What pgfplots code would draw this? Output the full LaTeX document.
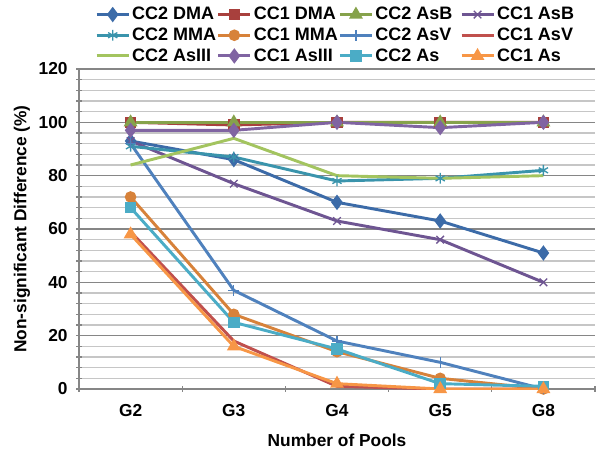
\documentclass[border=0pt]{standalone}
\usepackage{fontspec}
\setmainfont{Liberation Sans}
\usepackage{pgfplots}
\pgfplotsset{compat=1.18}
\definecolor{cctwodma}{HTML}{3C6BA8}
\definecolor{cconedma}{HTML}{A8403D}
\definecolor{cctwoasb}{HTML}{86A24B}
\definecolor{cconeasb}{HTML}{6E5592}
\definecolor{cctwomma}{HTML}{3A94AC}
\definecolor{cconemma}{HTML}{D7823A}
\definecolor{cctwoasv}{HTML}{4F81BD}
\definecolor{cconeasv}{HTML}{C0504D}
\definecolor{cctwoas3}{HTML}{A3C45F}
\definecolor{cconeas3}{HTML}{8064A2}
\definecolor{cctwoas}{HTML}{4BACC6}
\definecolor{cconeas}{HTML}{F79646}
\definecolor{axisgray}{HTML}{868686}
\newcommand{\legbox}[1]{\makebox[62pt][l]{#1}}

\begin{document}
\begin{tikzpicture}
\begin{axis}[
  name=main,
  scale only axis,
  width=387pt, height=240pt,
  font=\fontsize{13}{15}\selectfont\bfseries,
  /pgf/number format/assume math mode=true,
  xmin=-0.5, xmax=4.5,
  ymin=0, ymax=120,
  xtick={0,1,2,3,4},
  xticklabels={G2,G3,G4,G5,G8},
  minor xtick={-0.5,0.5,1.5,2.5,3.5,4.5},
  major x tick style={draw=none},
  minor x tick style={axisgray, thick},
  ytick={0,20,...,120},
  minor y tick num=4,
  ymajorgrids, yminorgrids,
  major grid style={axisgray, line width=0.8pt},
  minor grid style={gray!45, line width=0.8pt},
  y tick style={axisgray, thick},
  tick align=outside,
  major tick length=4pt,
  minor tick length=4pt,
  axis x line=bottom, axis y line=left,
  axis line style={-, axisgray, thick},
  xticklabel style={yshift=-6pt},
  yticklabel style={xshift=-3pt},
  xlabel={Number of Pools},
  ylabel={Non-significant Difference (\%)},
  every axis x label/.style={at={(rel axis cs:0.5,-0.159)}, anchor=center},
  every axis y label/.style={at={(rel axis cs:-0.1105,0.5)}, rotate=90, anchor=center},
  every axis plot/.append style={line width=2.2pt, mark size=3.2pt},
  legend columns=4,
  legend style={at={(rel axis cs:0.031,1.2)}, anchor=north west, draw=none,
    fill=none, inner sep=0pt, font=\fontsize{13.5}{14}\selectfont\bfseries,
    nodes={inner sep=1.5pt},
    /tikz/every even column/.append style={column sep=0pt},
    row sep=1.6pt},
  legend cell align=left,
  legend image code/.code={
    \draw[mark repeat=2, mark phase=2, line width=2.2pt]
      plot coordinates {(0pt,0pt) (12pt,0pt) (24pt,0pt)};},
]
\addplot[cctwodma, mark=diamond*, mark size=4pt, mark options={solid, fill=cctwodma}]
  coordinates {(0,93)(1,86)(2,70)(3,63)(4,51)};
\addlegendentry{\legbox{CC2 DMA}}
\addplot[cconedma, mark=square*, mark options={solid, fill=cconedma}]
  coordinates {(0,100)(1,99)(2,100)(3,100)(4,100)};
\addlegendentry{\legbox{CC1 DMA}}
\addplot[cctwoasb, mark=triangle*, mark size=3.8pt, mark options={solid, fill=cctwoasb}]
  coordinates {(0,100)(1,100)(2,100)(3,100)(4,100)};
\addlegendentry{\legbox{CC2 AsB}}
\addplot[cconeasb, mark=x, mark size=4pt, mark options={solid, line width=1pt}]
  coordinates {(0,93)(1,77)(2,63)(3,56)(4,40)};
\addlegendentry{CC1 AsB}
\addplot[cctwomma, mark=asterisk, mark size=4pt, mark options={solid, line width=1pt}]
  coordinates {(0,91)(1,87)(2,78)(3,79)(4,82)};
\addlegendentry{\legbox{CC2 MMA}}
\addplot[cconemma, mark=*, mark options={solid, fill=cconemma}]
  coordinates {(0,72)(1,28)(2,14)(3,4)(4,0)};
\addlegendentry{\legbox{CC1 MMA}}
\addplot[cctwoasv, mark=+, mark size=4pt, mark options={solid, line width=1pt}]
  coordinates {(0,92)(1,37)(2,18)(3,10)(4,0)};
\addlegendentry{\legbox{CC2 AsV}}
\addplot[cconeasv]
  coordinates {(0,59)(1,18)(2,1)(3,0)(4,0)};
\addlegendentry{CC1 AsV}
\addplot[cctwoas3]
  coordinates {(0,84)(1,94)(2,80)(3,79)(4,80)};
\addlegendentry{\legbox{CC2 AsIII}}
\addplot[cconeas3, mark=diamond*, mark size=4pt, mark options={solid, fill=cconeas3}]
  coordinates {(0,97)(1,97)(2,100)(3,98)(4,100)};
\addlegendentry{\legbox{CC1 AsIII}}
\addplot[cctwoas, mark=square*, mark options={solid, fill=cctwoas}]
  coordinates {(0,68)(1,25)(2,15)(3,2)(4,1)};
\addlegendentry{\legbox{CC2 As}}
\addplot[cconeas, mark=triangle*, mark size=3.8pt, mark options={solid, fill=cconeas}]
  coordinates {(0,58)(1,16)(2,2)(3,0)(4,0)};
\addlegendentry{CC1 As}
\end{axis}
\path[use as bounding box] ([xshift=-59.25pt,yshift=-47.25pt]main.south west)
  rectangle ([xshift=3.75pt,yshift=51.75pt]main.north east);
\end{tikzpicture}
\end{document}
